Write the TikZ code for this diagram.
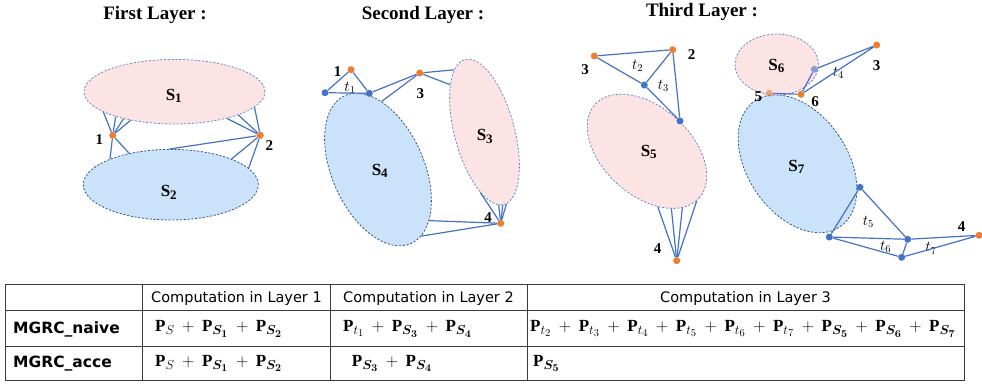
\RequirePackage{fix-cm}
\documentclass[tikz,border=0pt]{standalone}
\usepackage{fontspec}
\setmainfont{Liberation Serif}
\newfontfamily\tabfont{DejaVu Sans}
\usepackage{bm}
\usetikzlibrary{shapes.geometric}
\DeclareMathSizes{17}{17}{13}{10.5}
\medmuskip=8mu
\definecolor{edgeblue}{RGB}{68,114,196}
\definecolor{dotorange}{RGB}{237,125,49}
\definecolor{pinkfill}{RGB}{252,228,228}
\definecolor{bluefill}{RGB}{202,227,250}
\definecolor{pinkline}{RGB}{110,140,205}
\definecolor{blueline}{RGB}{60,90,140}
\definecolor{tabgray}{RGB}{60,60,60}
\tikzset{
  setpink/.style={ellipse, draw=pinkline, fill=pinkfill, dash pattern=on 2.2pt off 1.6pt,
    line width=.8pt, inner sep=0pt},
  setblue/.style={setpink, draw=blueline, fill=bluefill},
  setname/.style={inner sep=0pt, font=\fontsize{17}{17}\selectfont\bfseries},
  vert/.style={circle, fill=dotorange, inner sep=0pt, minimum size=7pt},
  tnode/.style={circle, fill=edgeblue, inner sep=0pt, minimum size=7pt},
  link/.style={draw=edgeblue, line width=1.2pt},
  num/.style={inner sep=0pt, font=\fontsize{15}{15}\selectfont\bfseries},
  tlab/.style={inner sep=0pt, font=\fontsize{15}{15}\selectfont},
  title/.style={inner sep=0pt, font=\fontsize{19}{19}\selectfont\bfseries},
  head/.style={inner sep=0pt, font=\tabfont\fontsize{14.5}{15}\selectfont},
  rowname/.style={anchor=west, inner sep=0pt, font=\tabfont\fontsize{15.5}{16}\selectfont\bfseries},
  form/.style={anchor=west, inner sep=0pt, font=\fontsize{17}{19}\selectfont},
  tabline/.style={draw=tabgray, line width=.8pt}
}
\begin{document}
\begin{tikzpicture}[x=1pt, y=-1pt]
  \useasboundingbox (0,0) rectangle (982,383);
  % first layer
  \node[title] (tit1) at (155,15) {First Layer :};
  \node[setpink, minimum width=181pt, minimum height=64.6pt] (S1) at (174.5,91.7) {};
  \node[setblue, minimum width=175pt, minimum height=70.6pt] (S2) at (170.8,184.7) {};
  \node[setname] (lS1) at (174,96) {S\textsubscript{1}};
  \node[setname] (lS2) at (169,192) {S\textsubscript{2}};
  \node[vert] (a1) at (112.7,135.3) {};
  \node[vert] (a2) at (260.3,135.3) {};
  \node[num] (n1) at (99.3,140) {1};
  \node[num] (n2) at (269.3,146) {2};
  \foreach \a in {196,203,208,213} \draw[link] (a1) -- (S1.\a);
  \foreach \a in {157,143} \draw[link] (a1) -- (S2.\a);
  \foreach \a in {349,340,333} \draw[link] (a2) -- (S1.\a);
  \foreach \a in {92,23,12} \draw[link] (a2) -- (S2.\a);
  % second layer
  \node[title] (tit2) at (423,15) {Second Layer :};
  \node[setblue, minimum width=92pt, minimum height=162pt, rotate=24] (S4) at (378,169.5) {};
  \node[setpink, minimum width=60pt, minimum height=150pt, rotate=15] (S3) at (484.5,132) {};
  \node[setname] (lS4) at (380,171) {S\textsubscript{4}};
  \node[setname] (lS3) at (485,136.7) {S\textsubscript{3}};
  \node[vert] (b1) at (351,69.7) {};
  \node[tnode] (bl) at (325,92.7) {};
  \node[tnode] (br) at (369.3,93.3) {};
  \node[vert] (b3) at (419.7,73) {};
  \node[vert] (b4) at (500.7,223.3) {};
  \node[num] (m1) at (337.7,72) {1};
  \node[tlab] (t1) at (350,88) {$t_1$};
  \node[num] (m3) at (420.3,93.3) {3};
  \node[num] (m4) at (488,218) {4};
  \draw[link] (bl) -- (b1) -- (br) -- (bl);
  \draw[link] (br) -- (b3);
  \draw[link] (b3) -- (S4.63);
  \foreach \a in {101,111} \draw[link] (b3) -- (S3.\a);
  \foreach \a in {-109,-94,-91,-88} \draw[link] (b4) -- (S3.\a);
  \foreach \a in {-69,-81} \draw[link] (b4) -- (S4.\a);
  % third layer
  \node[title] (tit3) at (702,12) {Third Layer :};
  \node[setpink, minimum width=140pt, minimum height=88pt, rotate=-42] (S5) at (647,151.3) {};
  \node[setname] (lS5) at (649,152) {S\textsubscript{5}};
  \node[vert] (c3) at (594.3,56) {};
  \node[vert] (c2) at (672.7,49.7) {};
  \node[tnode] (cm) at (644.3,85) {};
  \node[tnode] (cb) at (680,121) {};
  \node[vert] (c4) at (676.7,260.7) {};
  \node[num] (k3) at (585,69.3) {3};
  \node[num] (k2) at (691.7,55) {2};
  \node[tlab] (t2) at (637.7,66) {$t_2$};
  \node[tlab] (t3) at (663.3,86) {$t_3$};
  \node[num] (k4) at (657.7,248.3) {4};
  \draw[link] (c3) -- (c2) -- (cm) -- (c3);
  \draw[link] (c2) -- (cb) -- (cm);
  \foreach \a in {-37,-25,-16,-3} \draw[link] (c4) -- (S5.\a);
  \node[setblue, minimum width=100pt, minimum height=152pt, rotate=34] (S7) at (797.5,163.8) {};
  \node[setpink, minimum width=83.4pt, minimum height=61pt] (S6) at (776.7,64.5) {};
  \node[setname] (lS7) at (796.7,166.7) {S\textsubscript{7}};
  \node[setname] (lS6) at (776.7,66) {S\textsubscript{6}};
  \node[tnode, opacity=.6] (dq) at (814.3,69.3) {};
  \node[vert] (d3) at (876.7,45) {};
  \node[vert, opacity=.6] (d5) at (769.3,93.3) {};
  \node[vert] (d6) at (801,94.3) {};
  \node[tnode] (dA) at (860,187.3) {};
  \node[tnode] (dB) at (829.3,237) {};
  \node[tnode] (dC) at (907.7,239.3) {};
  \node[tnode] (dD) at (901.7,257.3) {};
  \node[vert] (d4) at (979,235.3) {};
  \node[num] (e3) at (876.7,66) {3};
  \node[num] (e5) at (758.3,96.7) {5};
  \node[num] (e6) at (815,101.7) {6};
  \node[num] (e4) at (961.7,226.7) {4};
  \node[tlab] (t4) at (838.3,72.7) {$t_4$};
  \node[tlab] (t5) at (868.3,221.7) {$t_5$};
  \node[tlab] (t6) at (885.7,246.7) {$t_6$};
  \node[tlab] (t7) at (931,248.3) {$t_7$};
  \draw[link] (dq) -- (d3) -- (d6) -- (dq);
  \draw[link] (d5) -- (d6);
  \draw[link] (dA) -- (dB) -- (dC) -- (dA);
  \draw[link] (dB) -- (dD) -- (dC) -- (d4) -- (dD);
  % table
  \draw[tabline] (5,284.3) rectangle (964,380);
  \draw[tabline] (5,310.7) -- (964,310.7) (5,346) -- (964,346);
  \draw[tabline] (142,284.3) -- (142,380) (330,284.3) -- (330,380) (527,284.3) -- (527,380);
  \node[head] (h1) at (236.5,298) {Computation in Layer 1};
  \node[head] (h2) at (428.5,298) {Computation in Layer 2};
  \node[head] (h3) at (745.5,298) {Computation in Layer 3};
  \node[rowname] (r1) at (13,329) {MGRC\_naive};
  \node[rowname] (r2) at (13,363.5) {MGRC\_acce};
  \node[form] (f11) at (155,329) {$\mathbf{P}_{S}+\mathbf{P}_{\bm{S_1}}+\mathbf{P}_{\bm{S_2}}$};
  \node[form] (f12) at (343,329) {$\mathbf{P}_{t_1}+\mathbf{P}_{\bm{S_3}}+\mathbf{P}_{\bm{S_4}}$};
  \node[form] (f13) at (530,329) {$\mathbf{P}_{t_2}+\mathbf{P}_{t_3}+\mathbf{P}_{t_4}+\mathbf{P}_{t_5}+\mathbf{P}_{t_6}+\mathbf{P}_{t_7}+\mathbf{P}_{\bm{S_5}}+\mathbf{P}_{\bm{S_6}}+\mathbf{P}_{\bm{S_7}}$};
  \node[form] (f21) at (155,363.5) {$\mathbf{P}_{S}+\mathbf{P}_{\bm{S_1}}+\mathbf{P}_{\bm{S_2}}$};
  \node[form] (f22) at (351.7,363.5) {$\mathbf{P}_{\bm{S_3}}+\mathbf{P}_{\bm{S_4}}$};
  \node[form] (f23) at (533,363.5) {$\mathbf{P}_{\bm{S_5}}$};
\end{tikzpicture}
\end{document}
